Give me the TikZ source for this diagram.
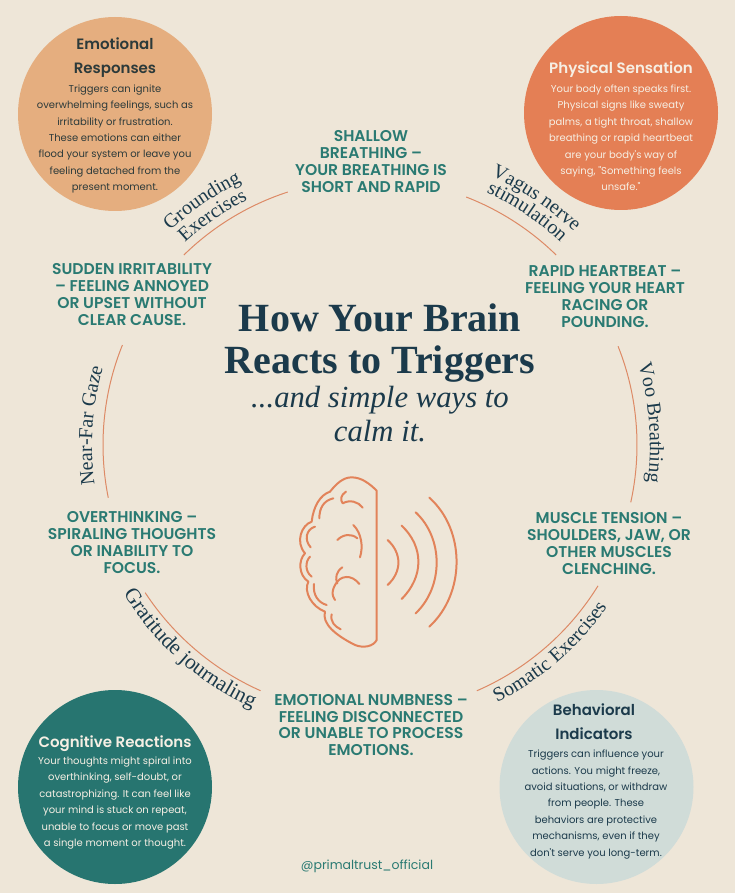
\documentclass[tikz,border=0pt]{standalone}
\usepackage{fontspec}
\usetikzlibrary{decorations.text,calc}
\setmainfont{Liberation Serif}
\newfontfamily\popbody{Poppins}
\newfontfamily\pophead{Poppins}[UprightFont=* SemiBold]
\definecolor{bgc}{HTML}{EEE6D8}
\definecolor{tealc}{HTML}{277570}
\definecolor{labelc}{HTML}{2A7A72}
\definecolor{tanc}{HTML}{E5AE7F}
\definecolor{orangec}{HTML}{E47F55}
\definecolor{bluec}{HTML}{D0DCD8}
\definecolor{navyc}{HTML}{1B3A4B}
\definecolor{arcc}{HTML}{DD8A66}
\definecolor{brainc}{HTML}{E2835A}
\definecolor{inkc}{HTML}{2C3A3A}
\definecolor{paperc}{HTML}{F6EFE4}
\tikzset{
  x=1pt,y=-1pt,
  disc/.style={circle,minimum size=194pt,inner sep=0pt},
  heading/.style={align=center,font={\pophead\fontsize{15}{24.6}\selectfont}},
  bodytext/.style={align=center,font={\popbody\fontsize{10}{16.4}\selectfont}},
  symptom/.style={align=center,text=labelc,font={\pophead\fontsize{15.6}{16.9}\selectfont}},
  ringarc/.style={draw=arcc,line width=1pt},
  brainline/.style={draw=brainc,line width=2pt,line cap=round,line join=round},
}
\newcommand{\curvelabel}[5][20]{%
  \path[decorate,decoration={text along path,text align=center,text color=navyc,
    text={|\fontsize{#1}{#1}\selectfont|#5}}]
    ($(370,445)+(#3:#2)$) arc[start angle=#3,end angle=#4,radius=#2];}
\begin{document}
\begin{tikzpicture}
\useasboundingbox (0,0) rectangle (735,893);
\fill[bgc] (0,0) rectangle (735,893);
% discs
\node[disc,fill=tanc] (d1) at (115,114) {};
\node[disc,fill=orangec] (d2) at (621,113) {};
\node[disc,fill=tealc] (d3) at (115,787) {};
\node[disc,fill=bluec] (d4) at (596.5,787) {};
\node[heading,text=inkc] (h1) at (115,57.5) {Emotional\\Responses};
\node[bodytext,text=inkc] (b1) at (115,139) {Triggers can ignite\\overwhelming feelings, such as\\irritability or frustration.\\These emotions can either\\flood your system or leave you\\feeling detached from the\\present moment.};
\node[heading,text=paperc] (h2) at (621,70) {Physical Sensation};
\node[bodytext,text=paperc] (b2) at (621,138) {Your body often speaks first.\\Physical signs like sweaty\\palms, a tight throat, shallow\\breathing or rapid heartbeat\\are your body's way of\\saying, "Something feels\\unsafe."};
\node[heading,text=paperc] (h3) at (115,743.5) {Cognitive Reactions};
\node[bodytext,text=paperc] (b3) at (115,803) {Your thoughts might spiral into\\overthinking, self-doubt, or\\catastrophizing. It can feel like\\your mind is stuck on repeat,\\unable to focus or move past\\a single moment or thought.};
\node[heading,text=navyc] (h4) at (594,721.5) {Behavioral\\Indicators};
\node[bodytext,text=navyc] (b4) at (596,804.5) {Triggers can influence your\\actions. You might freeze,\\avoid situations, or withdraw\\from people. These\\behaviors are protective\\mechanisms, even if they\\don't serve you long-term.};
% symptoms
\node[symptom] (s1) at (371,161.5) {SHALLOW\\BREATHING –\\YOUR BREATHING IS\\SHORT AND RAPID};
\node[symptom] (s2) at (132,294.5) {SUDDEN IRRITABILITY\\– FEELING ANNOYED\\OR UPSET WITHOUT\\CLEAR CAUSE.};
\node[symptom] (s3) at (605,296.5) {RAPID HEARTBEAT –\\FEELING YOUR HEART\\RACING OR\\POUNDING.};
\node[symptom] (s4) at (132,542.5) {OVERTHINKING –\\SPIRALING THOUGHTS\\OR INABILITY TO\\FOCUS.};
\node[symptom] (s5) at (609,543.5) {MUSCLE TENSION –\\SHOULDERS, JAW, OR\\OTHER MUSCLES\\CLENCHING.};
\node[symptom] (s6) at (371,725) {EMOTIONAL NUMBNESS –\\FEELING DISCONNECTED\\OR UNABLE TO PROCESS\\EMOTIONS.};
% title
\node[align=center,text=navyc,font={\bfseries\fontsize{40}{42}\selectfont}] (t1) at (380,343) {How Your Brain\\Reacts to Triggers};
\node[align=center,text=navyc,font={\itshape\fontsize{30.7}{34}\selectfont}] (t2) at (380,414) {...and simple ways to\\calm it.};
\node[text=labelc,font={\popbody\fontsize{12.5}{14}\selectfont}] (f) at (367,866) {@primaltrust\_official};
% ring arcs
\draw[ringarc] ($(370,445)+(225.6:266)$) arc[start angle=225.6,end angle=252,radius=266];
\draw[ringarc] ($(370,445)+(-68.8:266)$) arc[start angle=-68.8,end angle=-45.6,radius=266];
\draw[ringarc] ($(370,445)+(-21.7:267)$) arc[start angle=-21.7,end angle=12.4,radius=267];
\draw[ringarc] ($(370,445)+(31.7:268)$) arc[start angle=31.7,end angle=66.5,radius=268];
\draw[ringarc] ($(370,445)+(114:269)$) arc[start angle=114,end angle=146.7,radius=269];
\draw[ringarc] ($(370,445)+(168.6:267)$) arc[start angle=168.6,end angle=202,radius=267];
% curved labels
\curvelabel{293}{218}{253}{Grounding}
\curvelabel{274}{218}{253}{Exercises}
\curvelabel{295}{-72}{-40}{Vagus nerve}
\curvelabel{278}{-72}{-40}{stimulation}
\curvelabel{280}{-25}{16}{Voo Breathing}
\curvelabel{278}{159}{209}{Near-Far Gaze}
\curvelabel[21.5]{288}{161.5}{101.5}{Gratitude journaling}
\curvelabel{287}{79}{19}{Somatic Exercises}
% brain
\begin{scope}[shift={(280,460)},x=0.3333pt,y=-0.3333pt]
\draw[brainline] (290,92) .. controls (270,72) and (245,52) .. (215,52)
  .. controls (190,52) and (170,70) .. (150,95)
  .. controls (120,105) and (100,140) .. (95,185)
  .. controls (65,195) and (45,245) .. (75,280)
  .. controls (55,300) and (55,345) .. (85,365)
  .. controls (70,395) and (95,440) .. (135,455)
  .. controls (125,490) and (165,525) .. (225,555)
  .. controls (250,565) and (280,560) .. (290,540) -- cycle;
\draw[brainline] (160,115) .. controls (130,122) and (118,145) .. (118,175);
\draw[brainline] (105,200) .. controls (78,208) and (72,240) .. (92,262);
\draw[brainline] (90,290) .. controls (75,305) and (75,335) .. (95,350);
\draw[brainline] (102,372) .. controls (98,405) and (115,428) .. (140,435);
\draw[brainline] (155,463) .. controls (150,485) and (165,500) .. (182,508);
\draw[brainline] (198,95) .. controls (182,105) and (180,120) .. (188,130)
  .. controls (210,118) and (235,125) .. (248,143);
\draw[brainline] (220,195) .. controls (245,220) and (250,260) .. (240,292);
\draw[brainline] (172,240) .. controls (190,222) and (215,220) .. (232,235);
\draw[brainline] (187,322) .. controls (168,335) and (165,355) .. (172,370);
\draw[brainline] (238,372) .. controls (215,342) and (180,345) .. (165,375)
  .. controls (155,395) and (155,405) .. (165,420);
\draw[brainline] (323,240) .. controls (366,280) and (366,335) .. (323,375);
\draw[brainline] (365,197) .. controls (432,260) and (432,350) .. (365,417);
\draw[brainline] (407,157) .. controls (491,235) and (491,380) .. (407,460);
\draw[brainline] (448,113) .. controls (557,210) and (557,400) .. (448,500);
\end{scope}
\end{tikzpicture}
\end{document}
